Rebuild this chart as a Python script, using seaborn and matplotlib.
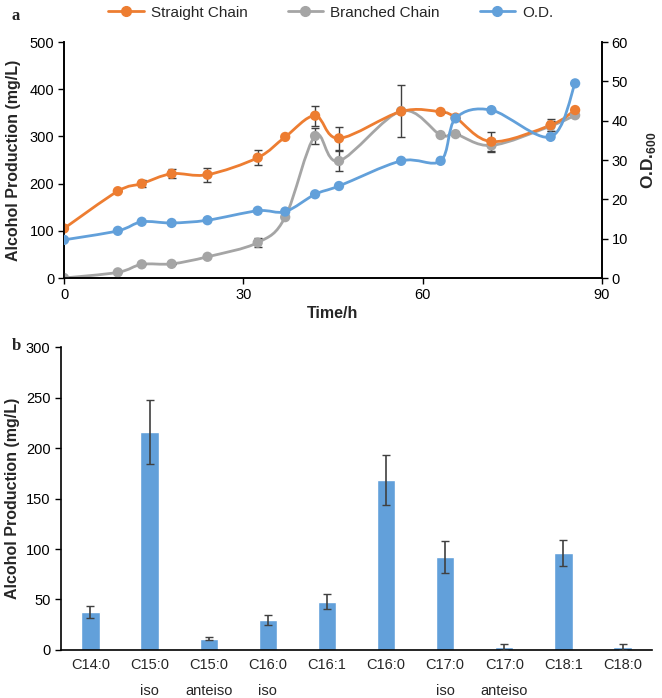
import numpy as np
import pandas as pd
import matplotlib
matplotlib.use("Agg")
import matplotlib.pyplot as plt
from matplotlib.path import Path
from matplotlib.patches import PathPatch
from matplotlib.lines import Line2D
import seaborn as sns

# ---- panel a data ----
time_h = [0, 9, 13, 18, 24, 32.4, 37, 42, 46, 56.4, 63, 65.5, 71.5, 81.4, 85.5]
straight = [105, 184, 200, 221, 219, 255, 299, 344, 296, 353, 352, 340, 289, 324, 356]
straight_err = [0, 0, 8, 10, 15, 16, 0, 21, 25, 0, 0, 0, 20, 12, 0]
branched = [0, 12, 29, 30, 45, 75, 129, 301, 248, 354, 303, 305, 281, 322, 345]
branched_err = [0, 0, 0, 0, 0, 9, 0, 17, 22, 55, 0, 0, 14, 10, 0]
od600 = [9.7, 12.0, 14.3, 14.0, 14.7, 17.1, 16.9, 21.3, 23.4, 29.8, 29.8, 40.6, 42.7, 35.9, 49.5]

# ---- panel b data ----
alcohols = ["C14:0", "C15:0\niso", "C15:0\nanteiso", "C16:0\niso", "C16:1",
            "C16:0", "C17:0\niso", "C17:0\nanteiso", "C18:1", "C18:0"]
production = [37.5, 216, 11, 29.5, 48, 168.5, 92, 3, 96, 3]
production_err = [6, 32, 1.5, 5, 7, 25, 16, 3, 13, 3]

ORANGE = "#ED7D31"
GRAY = "#A5A5A5"
BLUE = "#62A0DA"
ERR = "#404040"

sns.set_style("white")
plt.rcParams["font.family"] = ["Liberation Sans", "DejaVu Sans"]
plt.rcParams["font.size"] = 10.5
plt.rcParams["axes.edgecolor"] = "black"
plt.rcParams["mathtext.fontset"] = "custom"
plt.rcParams["mathtext.bf"] = "Liberation Sans:bold"
plt.rcParams["mathtext.rm"] = "Liberation Sans"


def smooth_curve(ax, x, y, color):
    # Excel-style smoothed line: cubic Bezier pieces through the points
    x = np.asarray(x, float)
    y = np.asarray(y, float)
    n = len(x)
    verts = [(x[0], y[0])]
    codes = [Path.MOVETO]
    for i in range(n - 1):
        i0 = max(i - 1, 0)
        i3 = min(i + 2, n - 1)
        c1 = (x[i] + (x[i + 1] - x[i0]) / 6, y[i] + (y[i + 1] - y[i0]) / 6)
        c2 = (x[i + 1] - (x[i3] - x[i]) / 6, y[i + 1] - (y[i3] - y[i]) / 6)
        verts += [c1, c2, (x[i + 1], y[i + 1])]
        codes += [Path.CURVE4] * 3
    ax.add_patch(PathPatch(Path(verts, codes), facecolor="none",
                           edgecolor=color, lw=2.0, zorder=2))


fig = plt.figure(figsize=(6.62, 6.98), dpi=100)

# ---------------- panel a ----------------
ax1 = fig.add_axes([0.0967, 0.6017, 0.8127, 0.338])
ax2 = ax1.twinx()

df = pd.DataFrame({"t": time_h, "s": straight, "b": branched, "od": od600})

smooth_curve(ax1, time_h, branched, GRAY)
smooth_curve(ax1, time_h, straight, ORANGE)
ax1.errorbar(time_h, branched, yerr=branched_err, fmt="none", ecolor=ERR,
             elinewidth=1, capsize=3, zorder=3)
ax1.errorbar(time_h, straight, yerr=straight_err, fmt="none", ecolor=ERR,
             elinewidth=1, capsize=3, zorder=3)
sns.scatterplot(data=df, x="t", y="b", ax=ax1, color=GRAY, s=55,
                edgecolor="none", zorder=4)
sns.scatterplot(data=df, x="t", y="s", ax=ax1, color=ORANGE, s=55,
                edgecolor="none", zorder=4)

smooth_curve(ax2, time_h, od600, BLUE)
sns.scatterplot(data=df, x="t", y="od", ax=ax2, color=BLUE, s=55,
                edgecolor="none", zorder=4)

ax1.set_xlim(0, 90)
ax1.set_ylim(0, 500)
ax2.set_ylim(0, 60)
ax1.set_xticks([0, 30, 60, 90])
ax1.set_yticks(range(0, 501, 100))
ax2.set_yticks(range(0, 61, 10))
ax1.set_xlabel("Time/h", fontweight="bold", fontsize=11.5, labelpad=3)
ax1.set_ylabel("Alcohol Production (mg/L)", fontweight="bold", fontsize=11.5,
               labelpad=6)
ax2.set_ylabel(r"O.D.$_{\mathbf{600}}$", fontweight="bold", fontsize=12.5,
               rotation=90, labelpad=8)
for ax in (ax1, ax2):
    ax.spines["top"].set_visible(False)
    ax.tick_params(direction="out", length=4, width=1, colors="black",
                   labelsize=10.5, pad=3)
    for sp in ax.spines.values():
        sp.set_linewidth(1.2)
ax1.tick_params(axis="both", which="both", left=True, bottom=True)
ax2.tick_params(axis="y", right=True)

handles = [
    Line2D([], [], color=ORANGE, lw=2, marker="o", markersize=7, label="Straight Chain"),
    Line2D([], [], color=GRAY, lw=2, marker="o", markersize=7, label="Branched Chain"),
    Line2D([], [], color=BLUE, lw=2, marker="o", markersize=7, label="O.D."),
]
fig.legend(handles=handles, loc="center", bbox_to_anchor=(0.50, 0.982), ncol=3,
           frameon=False, fontsize=11, handlelength=2.3, columnspacing=2.6,
           handletextpad=0.5)

fig.text(0.018, 0.977, "a", fontfamily="Liberation Serif", fontweight="bold",
         fontsize=12, va="center")

# ---------------- panel b ----------------
ax3 = fig.add_axes([0.092, 0.0688, 0.893, 0.434])
dfb = pd.DataFrame({"alcohol": alcohols, "prod": production})
sns.barplot(data=dfb, x="alcohol", y="prod", ax=ax3, color=BLUE,
            saturation=1, width=0.31, errorbar=None)
ax3.errorbar(range(len(alcohols)), production, yerr=production_err, fmt="none",
             ecolor=ERR, elinewidth=1.2, capsize=3, zorder=3)
ax3.set_xlim(-0.5, len(alcohols) - 0.5)
ax3.set_ylim(0, 300)
ax3.set_yticks(range(0, 301, 50))
ax3.set_xlabel("")
ax3.set_ylabel("Alcohol Production (mg/L)", fontweight="bold", fontsize=11.5,
               labelpad=4)
ax3.spines["top"].set_visible(False)
ax3.spines["right"].set_visible(False)
for sp in ax3.spines.values():
    sp.set_linewidth(1.2)
ax3.tick_params(axis="y", direction="out", length=4, width=1, left=True,
                colors="black", labelsize=10.5)
ax3.tick_params(axis="x", length=0, labelsize=10.5, pad=6)
for lab in ax3.get_xticklabels():
    lab.set_linespacing(2.1)
    lab.set_verticalalignment("top")

fig.text(0.018, 0.505, "b", fontfamily="Liberation Serif", fontweight="bold",
         fontsize=12, va="center")

fig.savefig("out.png", dpi=100)
